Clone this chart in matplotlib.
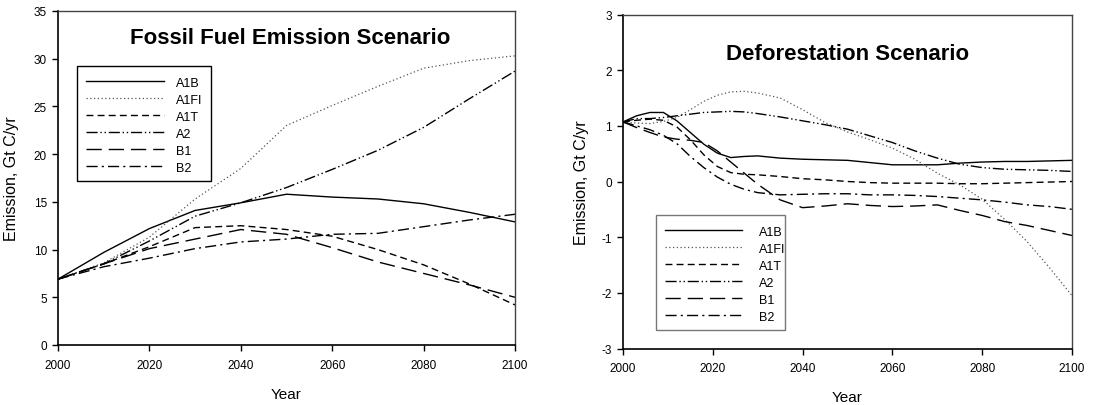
import numpy as np
import matplotlib
matplotlib.use('Agg')
import matplotlib.pyplot as plt
from matplotlib.patches import Rectangle

plt.rcParams.update({'font.family': ['Liberation Sans', 'DejaVu Sans'],
                     'font.size': 9,
                     'axes.unicode_minus': False})

SCENARIOS = ['A1B', 'A1FI', 'A1T', 'A2', 'B1', 'B2']

# fossil fuel emissions, Gt C/yr, every 10 years
fossil_years = [2000, 2010, 2020, 2030, 2040, 2050, 2060, 2070, 2080, 2090, 2100]
fossil_a1b = [6.9, 9.7, 12.2, 14.1, 14.9, 15.8, 15.5, 15.3, 14.8, 13.9, 12.9]
fossil_a1fi = [6.9, 8.6, 11.3, 15.3, 18.5, 23.0, 25.1, 27.1, 29.0, 29.8, 30.3]
fossil_a1t = [6.9, 8.5, 10.3, 12.3, 12.5, 12.1, 11.4, 10.0, 8.4, 6.4, 4.2]
fossil_a2 = [6.9, 8.5, 10.9, 13.5, 14.9, 16.5, 18.4, 20.4, 22.8, 25.8, 28.7]
fossil_b1 = [6.9, 8.5, 10.1, 11.1, 12.1, 11.6, 10.2, 8.7, 7.5, 6.3, 5.0]
fossil_b2 = [6.9, 8.2, 9.1, 10.1, 10.8, 11.1, 11.6, 11.7, 12.4, 13.1, 13.7]

# deforestation emissions, Gt C/yr
defor_years = [2000, 2003, 2006, 2009, 2012, 2015, 2018, 2021, 2024, 2027, 2030,
               2035, 2040, 2045, 2050, 2055, 2060, 2065, 2070, 2075, 2080, 2085,
               2090, 2095, 2100]
defor_a1b = [1.07, 1.18, 1.24, 1.24, 1.09, 0.88, 0.67, 0.51, 0.43, 0.45, 0.46,
             0.42, 0.40, 0.39, 0.38, 0.34, 0.30, 0.30, 0.30, 0.33, 0.35, 0.36,
             0.36, 0.37, 0.38]
defor_a1fi = [1.07, 1.05, 1.04, 1.08, 1.15, 1.29, 1.44, 1.55, 1.61, 1.62, 1.59,
              1.50, 1.29, 1.06, 0.89, 0.75, 0.60, 0.40, 0.15, -0.06, -0.32, -0.68,
              -1.08, -1.55, -2.05]
defor_a1t = [1.07, 1.10, 1.12, 1.10, 0.98, 0.75, 0.48, 0.27, 0.16, 0.13, 0.12,
             0.09, 0.05, 0.03, 0.00, -0.02, -0.03, -0.03, -0.03, -0.04, -0.04, -0.03,
             -0.02, -0.01, 0.00]
defor_a2 = [1.07, 1.13, 1.13, 1.15, 1.18, 1.21, 1.24, 1.25, 1.26, 1.25, 1.22,
            1.16, 1.09, 1.02, 0.94, 0.82, 0.70, 0.55, 0.42, 0.31, 0.25, 0.22,
            0.21, 0.20, 0.18]
defor_b1 = [1.07, 0.97, 0.88, 0.80, 0.76, 0.74, 0.70, 0.55, 0.35, 0.15, -0.05,
            -0.33, -0.47, -0.44, -0.40, -0.43, -0.45, -0.44, -0.42, -0.52, -0.61, -0.72,
            -0.79, -0.88, -0.97]
defor_b2 = [1.07, 1.00, 0.93, 0.83, 0.68, 0.45, 0.25, 0.08, -0.05, -0.14, -0.20,
            -0.24, -0.23, -0.22, -0.22, -0.24, -0.24, -0.25, -0.27, -0.30, -0.33, -0.37,
            -0.42, -0.45, -0.50]

styles = {
    'A1B': dict(ls='-', color='black', lw=1.0),
    'A1FI': dict(ls=(0, (1, 2)), color='#555555', lw=0.9),
    'A1T': dict(ls=(0, (5, 3)), color='black', lw=1.0),
    'A2': dict(ls=(0, (8, 2, 1, 2, 1, 2)), color='black', lw=1.0),
    'B1': dict(ls=(0, (11, 5)), color='black', lw=1.0),
    'B2': dict(ls=(0, (8, 3, 1.5, 3)), color='black', lw=1.0),
}

W, H = 1093, 406
fig = plt.figure(figsize=(W / 100, H / 100), dpi=100)


def px_axes(x0, x1, y0, y1):
    # pixel box (left, right, top, bottom) -> figure axes
    return fig.add_axes([x0 / W, 1 - y1 / H, (x1 - x0) / W, (y1 - y0) / H])


def style_axes(ax):
    for side in ['left', 'bottom']:
        ax.spines[side].set_linewidth(1.2)
        ax.spines[side].set_color('black')
    for side in ['top', 'right']:
        ax.spines[side].set_linewidth(1.0)
        ax.spines[side].set_color('#444444')
    ax.tick_params(direction='out', length=4, width=1, labelsize=8.5,
                   top=False, right=False)
    ax.tick_params(axis='x', pad=6)
    ax.tick_params(axis='y', pad=4)


def add_legend(ax, anchor, box, gap, frame_color):
    leg = ax.legend(loc='upper left', bbox_to_anchor=anchor, frameon=False,
                    borderpad=0, borderaxespad=0, handlelength=6.2,
                    handletextpad=gap, labelspacing=0.4, fontsize=9)
    ax.add_patch(Rectangle((box[0], box[1]), box[2], box[3], transform=ax.transAxes,
                           fill=False, edgecolor=frame_color, lw=1.0, zorder=5))
    return leg


# left panel: fossil fuel
ax1 = px_axes(58, 515, 12, 346)
fossil = [fossil_a1b, fossil_a1fi, fossil_a1t, fossil_a2, fossil_b1, fossil_b2]
for name, vals in zip(SCENARIOS, fossil):
    ax1.plot(fossil_years, vals, label=name, **styles[name])
ax1.set_xlim(2000, 2100)
ax1.set_ylim(0, 35)
ax1.set_xticks(np.arange(2000, 2101, 20))
ax1.set_yticks(np.arange(0, 36, 5))
style_axes(ax1)
ax1.set_xlabel('Year', fontsize=11)
ax1.set_ylabel('Emission, Gt C/yr', fontsize=11.5)
ax1.xaxis.set_label_coords(0.5, -0.126)
ax1.yaxis.set_label_coords(-0.085, 0.5)
ax1.text(0.508, 0.922, 'Fossil Fuel Emission Scenario', transform=ax1.transAxes,
         ha='center', va='center', fontsize=16, fontweight='bold')
add_legend(ax1, (0.0613, 0.803),
           ((77 - 58) / 457, (346 - 182) / 334, (211 - 77) / 457, (182 - 67) / 334),
           1.0, 'black')

# right panel: deforestation
ax2 = px_axes(623, 1072, 15.5, 349.5)
defor = [defor_a1b, defor_a1fi, defor_a1t, defor_a2, defor_b1, defor_b2]
for name, vals in zip(SCENARIOS, defor):
    ax2.plot(defor_years, vals, label=name, **styles[name])
ax2.set_xlim(2000, 2100)
ax2.set_ylim(-3, 3)
ax2.set_xticks(np.arange(2000, 2101, 20))
ax2.set_yticks(np.arange(-3, 4, 1))
style_axes(ax2)
ax2.set_xlabel('Year', fontsize=11)
ax2.set_ylabel('Emission, Gt C/yr', fontsize=11.5)
ax2.xaxis.set_label_coords(0.5, -0.124)
ax2.yaxis.set_label_coords(-0.076, 0.5)
ax2.text(0.501, 0.882, 'Deforestation Scenario', transform=ax2.transAxes,
         ha='center', va='center', fontsize=16, fontweight='bold')
add_legend(ax2, (0.0935, 0.368),
           ((656 - 623) / 449, (349.5 - 331) / 334, (785 - 656) / 449, (331 - 216) / 334),
           1.35, '#777777')

fig.savefig('out.png', dpi=100)
